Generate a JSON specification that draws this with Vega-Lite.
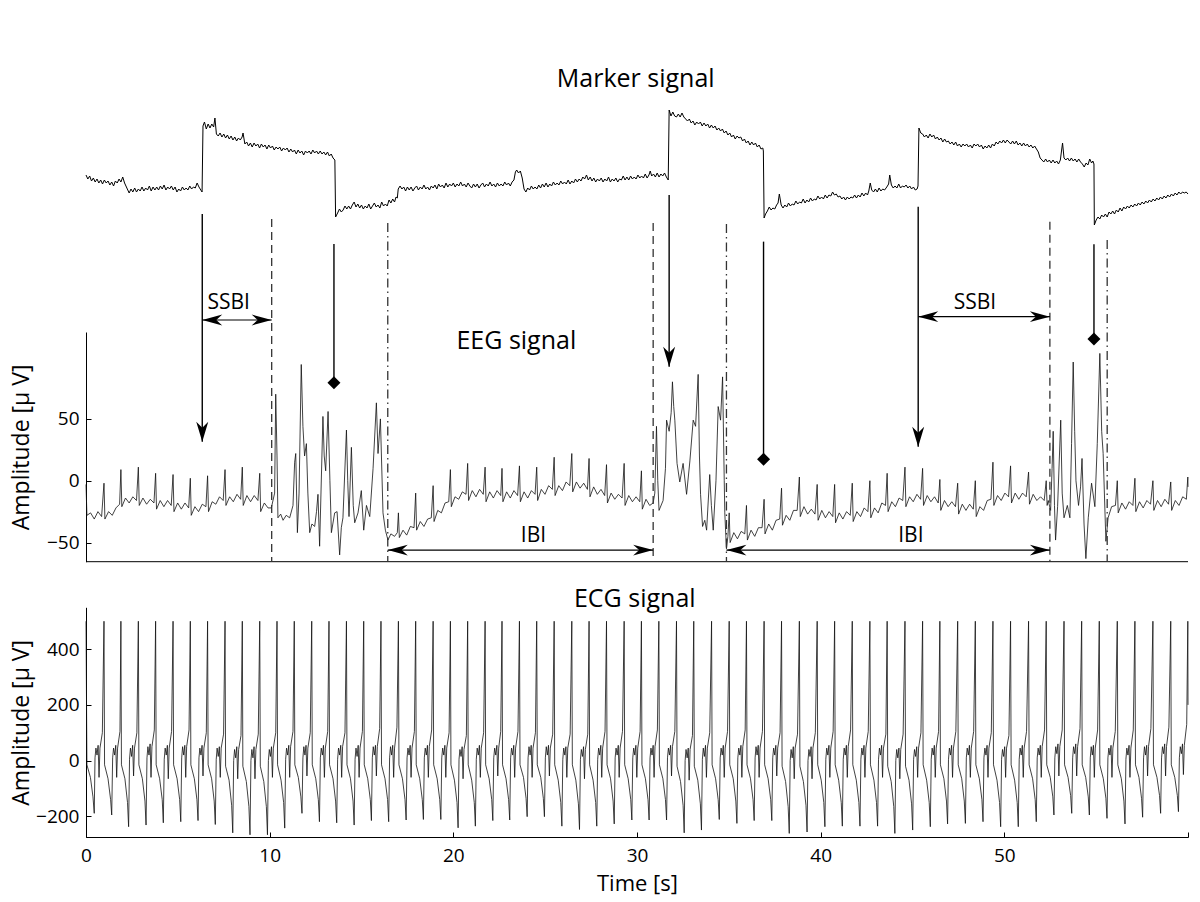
{
"$schema":"https://vega.github.io/schema/vega-lite/v6.json",
"width":1102,"height":837,
"autosize":{"type":"none"},
"padding":{"left":86,"top":0,"right":12,"bottom":65},
"background":"white",
"config":{"view":{"stroke":null},"font":"Open Sans",
"axis":{"grid":false,"domainColor":"#000","tickColor":"#000","labelColor":"#000","titleColor":"#000","labelFontSize":19,"titleFontWeight":"normal","tickSize":-5,"domainWidth":1,"tickWidth":1,"labelFont":"Open Sans","titleFont":"Open Sans"}},
"datasets":{
"marker":[{"t":0,"v":55},{"t":0.1,"v":51},{"t":0.2,"v":54},{"t":0.3,"v":49},{"t":0.4,"v":52},{"t":0.5,"v":48},{"t":0.6,"v":51},{"t":0.7,"v":47},{"t":0.8,"v":50},{"t":0.9,"v":46},{"t":1.0,"v":50},{"t":1.1,"v":47},{"t":1.2,"v":49},{"t":1.3,"v":45},{"t":1.4,"v":48},{"t":1.5,"v":44},{"t":1.6,"v":49},{"t":1.7,"v":47},{"t":1.8,"v":51},{"t":1.9,"v":48},{"t":2.0,"v":53},{"t":2.1,"v":47},{"t":2.25,"v":41},{"t":2.35,"v":37},{"t":2.45,"v":41},{"t":2.55,"v":38},{"t":2.65,"v":42},{"t":2.75,"v":38},{"t":2.85,"v":41},{"t":2.95,"v":39},{"t":3.05,"v":43},{"t":3.15,"v":39},{"t":3.25,"v":42},{"t":3.35,"v":40},{"t":3.45,"v":44},{"t":3.55,"v":39},{"t":3.65,"v":43},{"t":3.75,"v":40},{"t":3.85,"v":43},{"t":3.95,"v":40},{"t":4.05,"v":44},{"t":4.15,"v":41},{"t":4.25,"v":45},{"t":4.35,"v":40},{"t":4.45,"v":43},{"t":4.55,"v":41},{"t":4.65,"v":44},{"t":4.75,"v":40},{"t":4.85,"v":43},{"t":4.95,"v":38},{"t":5.05,"v":41},{"t":5.15,"v":39},{"t":5.25,"v":43},{"t":5.35,"v":40},{"t":5.45,"v":42},{"t":5.55,"v":40},{"t":5.65,"v":44},{"t":5.75,"v":41},{"t":5.85,"v":43},{"t":5.95,"v":42},{"t":6.05,"v":47},{"t":6.15,"v":43},{"t":6.25,"v":40},{"t":6.32,"v":38},
{"t":6.37,"v":104},{"t":6.45,"v":108},{"t":6.55,"v":101},{"t":6.65,"v":106},{"t":6.75,"v":102},{"t":6.85,"v":106},{"t":6.95,"v":103},{"t":7.02,"v":112},{"t":7.1,"v":96},{"t":7.2,"v":94},{"t":7.3,"v":97},{"t":7.4,"v":93},{"t":7.5,"v":96},{"t":7.6,"v":92},{"t":7.7,"v":95},{"t":7.8,"v":91},{"t":7.9,"v":94},{"t":8.0,"v":90},{"t":8.1,"v":93},{"t":8.2,"v":89},{"t":8.3,"v":92},{"t":8.4,"v":90},{"t":8.5,"v":93},{"t":8.55,"v":97},{"t":8.65,"v":86},{"t":8.75,"v":88},{"t":8.85,"v":84},{"t":8.95,"v":87},{"t":9.05,"v":83},{"t":9.15,"v":87},{"t":9.25,"v":84},{"t":9.35,"v":86},{"t":9.45,"v":82},{"t":9.55,"v":86},{"t":9.65,"v":83},{"t":9.75,"v":85},{"t":9.85,"v":81},{"t":9.95,"v":85},{"t":10.05,"v":82},{"t":10.15,"v":84},{"t":10.25,"v":80},{"t":10.35,"v":83},{"t":10.45,"v":81},{"t":10.55,"v":83},{"t":10.65,"v":79},{"t":10.75,"v":82},{"t":10.85,"v":80},{"t":10.95,"v":82},{"t":11.05,"v":78},{"t":11.15,"v":81},{"t":11.25,"v":78},{"t":11.35,"v":80},{"t":11.45,"v":76},{"t":11.55,"v":80},{"t":11.65,"v":77},{"t":11.75,"v":79},{"t":11.85,"v":75},{"t":11.95,"v":79},{"t":12.05,"v":77},{"t":12.15,"v":79},{"t":12.25,"v":76},{"t":12.35,"v":80},{"t":12.45,"v":77},{"t":12.55,"v":79},{"t":12.65,"v":76},{"t":12.75,"v":79},{"t":12.85,"v":76},{"t":12.95,"v":78},{"t":13.05,"v":75},{"t":13.15,"v":78},{"t":13.25,"v":74},{"t":13.35,"v":76},{"t":13.45,"v":72},{"t":13.55,"v":70},
{"t":13.59,"v":13},{"t":13.7,"v":17},{"t":13.8,"v":21},{"t":13.9,"v":18},{"t":14.0,"v":20},{"t":14.1,"v":24},{"t":14.2,"v":21},{"t":14.3,"v":24},{"t":14.4,"v":21},{"t":14.5,"v":25},{"t":14.6,"v":28},{"t":14.7,"v":23},{"t":14.8,"v":26},{"t":14.9,"v":22},{"t":15.0,"v":25},{"t":15.1,"v":21},{"t":15.2,"v":24},{"t":15.3,"v":22},{"t":15.4,"v":26},{"t":15.5,"v":21},{"t":15.6,"v":24},{"t":15.7,"v":27},{"t":15.8,"v":23},{"t":15.9,"v":25},{"t":16.0,"v":22},{"t":16.1,"v":28},{"t":16.2,"v":24},{"t":16.3,"v":26},{"t":16.4,"v":24},{"t":16.5,"v":30},{"t":16.6,"v":27},{"t":16.7,"v":31},{"t":16.8,"v":28},{"t":16.88,"v":33},{"t":16.95,"v":32},{"t":17.0,"v":41},{"t":17.1,"v":44},{"t":17.2,"v":41},{"t":17.3,"v":43},{"t":17.4,"v":39},{"t":17.5,"v":43},{"t":17.6,"v":40},{"t":17.7,"v":43},{"t":17.8,"v":39},{"t":17.9,"v":42},{"t":18.0,"v":44},{"t":18.1,"v":40},{"t":18.2,"v":43},{"t":18.3,"v":41},{"t":18.4,"v":45},{"t":18.5,"v":41},{"t":18.6,"v":43},{"t":18.7,"v":40},{"t":18.8,"v":44},{"t":18.9,"v":42},{"t":19.0,"v":45},{"t":19.1,"v":41},{"t":19.2,"v":46},{"t":19.3,"v":43},{"t":19.4,"v":45},{"t":19.5,"v":42},{"t":19.6,"v":47},{"t":19.7,"v":43},{"t":19.8,"v":46},{"t":19.9,"v":44},{"t":20.0,"v":47},{"t":20.1,"v":43},{"t":20.2,"v":46},{"t":20.3,"v":44},{"t":20.4,"v":48},{"t":20.5,"v":44},{"t":20.6,"v":46},{"t":20.7,"v":43},{"t":20.8,"v":47},{"t":20.9,"v":44},{"t":21.0,"v":42},{"t":21.1,"v":46},{"t":21.2,"v":43},{"t":21.3,"v":46},{"t":21.4,"v":42},{"t":21.5,"v":45},{"t":21.6,"v":47},{"t":21.7,"v":43},{"t":21.8,"v":46},{"t":21.9,"v":44},{"t":22.0,"v":48},{"t":22.1,"v":44},{"t":22.2,"v":46},{"t":22.3,"v":43},{"t":22.4,"v":47},{"t":22.5,"v":44},{"t":22.6,"v":46},{"t":22.7,"v":44},{"t":22.8,"v":48},{"t":22.9,"v":45},{"t":23.0,"v":47},{"t":23.1,"v":44},{"t":23.2,"v":48},{"t":23.3,"v":50},{"t":23.38,"v":58},{"t":23.45,"v":60},{"t":23.55,"v":57},{"t":23.65,"v":59},{"t":23.75,"v":52},{"t":23.85,"v":41},{"t":23.95,"v":38},{"t":24.05,"v":42},{"t":24.15,"v":40},{"t":24.25,"v":44},{"t":24.35,"v":41},{"t":24.45,"v":43},{"t":24.55,"v":41},{"t":24.65,"v":45},{"t":24.75,"v":42},{"t":24.85,"v":46},{"t":24.95,"v":43},{"t":25.05,"v":47},{"t":25.15,"v":43},{"t":25.25,"v":46},{"t":25.35,"v":44},{"t":25.45,"v":48},{"t":25.55,"v":45},{"t":25.65,"v":47},{"t":25.75,"v":45},{"t":25.85,"v":49},{"t":25.95,"v":46},{"t":26.05,"v":48},{"t":26.15,"v":46},{"t":26.25,"v":50},{"t":26.35,"v":46},{"t":26.45,"v":49},{"t":26.55,"v":47},{"t":26.65,"v":51},{"t":26.75,"v":48},{"t":26.85,"v":51},{"t":26.95,"v":49},{"t":27.05,"v":53},{"t":27.15,"v":51},{"t":27.25,"v":55},{"t":27.35,"v":50},{"t":27.45,"v":53},{"t":27.55,"v":49},{"t":27.65,"v":52},{"t":27.75,"v":48},{"t":27.85,"v":51},{"t":27.95,"v":49},{"t":28.05,"v":52},{"t":28.15,"v":48},{"t":28.25,"v":51},{"t":28.35,"v":49},{"t":28.45,"v":53},{"t":28.55,"v":48},{"t":28.65,"v":51},{"t":28.75,"v":49},{"t":28.85,"v":52},{"t":28.95,"v":48},{"t":29.05,"v":51},{"t":29.15,"v":50},{"t":29.25,"v":54},{"t":29.35,"v":50},{"t":29.45,"v":53},{"t":29.55,"v":50},{"t":29.65,"v":54},{"t":29.75,"v":51},{"t":29.85,"v":53},{"t":29.95,"v":51},{"t":30.05,"v":55},{"t":30.15,"v":52},{"t":30.25,"v":54},{"t":30.35,"v":52},{"t":30.45,"v":56},{"t":30.55,"v":52},{"t":30.65,"v":55},{"t":30.72,"v":59},{"t":30.8,"v":54},{"t":30.9,"v":56},{"t":31.0,"v":53},{"t":31.1,"v":57},{"t":31.2,"v":53},{"t":31.3,"v":56},{"t":31.4,"v":54},{"t":31.5,"v":57},{"t":31.6,"v":53},{"t":31.7,"v":50},
{"t":31.75,"v":120},{"t":31.85,"v":114},{"t":31.95,"v":118},{"t":32.05,"v":114},{"t":32.15,"v":113},{"t":32.25,"v":116},{"t":32.35,"v":113},{"t":32.45,"v":117},{"t":32.55,"v":113},{"t":32.65,"v":111},{"t":32.75,"v":109},{"t":32.85,"v":111},{"t":32.95,"v":107},{"t":33.05,"v":109},{"t":33.15,"v":105},{"t":33.25,"v":108},{"t":33.35,"v":106},{"t":33.45,"v":108},{"t":33.55,"v":104},{"t":33.65,"v":107},{"t":33.75,"v":104},{"t":33.85,"v":106},{"t":33.95,"v":102},{"t":34.05,"v":105},{"t":34.15,"v":102},{"t":34.25,"v":104},{"t":34.35,"v":100},{"t":34.45,"v":102},{"t":34.55,"v":99},{"t":34.65,"v":101},{"t":34.75,"v":97},{"t":34.85,"v":99},{"t":34.95,"v":95},{"t":35.05,"v":97},{"t":35.15,"v":93},{"t":35.25,"v":95},{"t":35.35,"v":91},{"t":35.45,"v":94},{"t":35.55,"v":92},{"t":35.65,"v":93},{"t":35.75,"v":89},{"t":35.85,"v":91},{"t":35.95,"v":87},{"t":36.05,"v":89},{"t":36.15,"v":85},{"t":36.25,"v":88},{"t":36.35,"v":85},{"t":36.45,"v":87},{"t":36.55,"v":83},{"t":36.65,"v":85},{"t":36.75,"v":81},{"t":36.85,"v":82},{"t":36.88,"v":79},
{"t":36.92,"v":12},{"t":37.0,"v":16},{"t":37.1,"v":19},{"t":37.2,"v":23},{"t":37.3,"v":20},{"t":37.4,"v":22},{"t":37.5,"v":21},{"t":37.6,"v":25},{"t":37.68,"v":27},{"t":37.75,"v":36},{"t":37.85,"v":25},{"t":37.95,"v":22},{"t":38.05,"v":25},{"t":38.15,"v":23},{"t":38.25,"v":27},{"t":38.35,"v":24},{"t":38.45,"v":26},{"t":38.55,"v":25},{"t":38.65,"v":29},{"t":38.75,"v":26},{"t":38.85,"v":28},{"t":38.95,"v":27},{"t":39.05,"v":31},{"t":39.15,"v":27},{"t":39.25,"v":30},{"t":39.35,"v":28},{"t":39.45,"v":32},{"t":39.55,"v":29},{"t":39.65,"v":31},{"t":39.75,"v":30},{"t":39.85,"v":34},{"t":39.95,"v":31},{"t":40.05,"v":33},{"t":40.15,"v":31},{"t":40.25,"v":35},{"t":40.35,"v":32},{"t":40.45,"v":35},{"t":40.55,"v":34},{"t":40.65,"v":38},{"t":40.75,"v":35},{"t":40.85,"v":36},{"t":40.95,"v":33},{"t":41.05,"v":34},{"t":41.15,"v":31},{"t":41.25,"v":33},{"t":41.35,"v":30},{"t":41.45,"v":33},{"t":41.55,"v":31},{"t":41.65,"v":33},{"t":41.75,"v":32},{"t":41.85,"v":35},{"t":41.95,"v":32},{"t":42.05,"v":35},{"t":42.15,"v":33},{"t":42.25,"v":37},{"t":42.35,"v":34},{"t":42.45,"v":37},{"t":42.55,"v":35},{"t":42.62,"v":39},{"t":42.7,"v":47},{"t":42.78,"v":40},{"t":42.88,"v":38},{"t":42.98,"v":41},{"t":43.08,"v":38},{"t":43.18,"v":42},{"t":43.28,"v":39},{"t":43.38,"v":41},{"t":43.48,"v":40},{"t":43.6,"v":43},{"t":43.7,"v":46},{"t":43.76,"v":55},{"t":43.85,"v":45},{"t":43.95,"v":42},{"t":44.05,"v":44},{"t":44.15,"v":42},{"t":44.25,"v":46},{"t":44.35,"v":42},{"t":44.45,"v":44},{"t":44.55,"v":43},{"t":44.65,"v":45},{"t":44.75,"v":42},{"t":44.85,"v":44},{"t":44.95,"v":41},{"t":45.05,"v":43},{"t":45.15,"v":40},{"t":45.25,"v":41},{"t":45.3,"v":44},
{"t":45.35,"v":102},{"t":45.45,"v":97},{"t":45.55,"v":96},{"t":45.65,"v":93},{"t":45.75,"v":95},{"t":45.85,"v":92},{"t":45.95,"v":96},{"t":46.05,"v":93},{"t":46.15,"v":95},{"t":46.25,"v":91},{"t":46.35,"v":93},{"t":46.45,"v":90},{"t":46.55,"v":92},{"t":46.65,"v":88},{"t":46.75,"v":91},{"t":46.85,"v":88},{"t":46.95,"v":89},{"t":47.05,"v":86},{"t":47.15,"v":88},{"t":47.25,"v":85},{"t":47.35,"v":88},{"t":47.45,"v":84},{"t":47.55,"v":86},{"t":47.65,"v":83},{"t":47.75,"v":86},{"t":47.85,"v":84},{"t":47.95,"v":86},{"t":48.05,"v":83},{"t":48.15,"v":85},{"t":48.25,"v":82},{"t":48.35,"v":86},{"t":48.45,"v":84},{"t":48.55,"v":86},{"t":48.65,"v":83},{"t":48.75,"v":85},{"t":48.85,"v":81},{"t":48.95,"v":84},{"t":49.05,"v":82},{"t":49.15,"v":85},{"t":49.25,"v":82},{"t":49.35,"v":86},{"t":49.45,"v":84},{"t":49.55,"v":88},{"t":49.65,"v":86},{"t":49.75,"v":89},{"t":49.85,"v":87},{"t":49.95,"v":90},{"t":50.05,"v":87},{"t":50.15,"v":90},{"t":50.25,"v":88},{"t":50.35,"v":86},{"t":50.45,"v":89},{"t":50.55,"v":86},{"t":50.65,"v":89},{"t":50.75,"v":85},{"t":50.85,"v":87},{"t":50.95,"v":84},{"t":51.05,"v":87},{"t":51.15,"v":84},{"t":51.25,"v":86},{"t":51.35,"v":83},{"t":51.45,"v":85},{"t":51.55,"v":82},{"t":51.65,"v":84},{"t":51.75,"v":81},{"t":51.85,"v":78},{"t":51.95,"v":72},{"t":52.05,"v":70},{"t":52.15,"v":68},{"t":52.25,"v":71},{"t":52.35,"v":68},{"t":52.45,"v":70},{"t":52.55,"v":67},{"t":52.65,"v":70},{"t":52.75,"v":67},{"t":52.85,"v":69},{"t":52.95,"v":66},{"t":53.05,"v":70},{"t":53.12,"v":80},{"t":53.17,"v":87},{"t":53.25,"v":72},{"t":53.35,"v":70},{"t":53.45,"v":72},{"t":53.55,"v":69},{"t":53.65,"v":72},{"t":53.75,"v":69},{"t":53.85,"v":71},{"t":53.95,"v":68},{"t":54.05,"v":71},{"t":54.15,"v":68},{"t":54.25,"v":66},{"t":54.35,"v":63},{"t":54.45,"v":67},{"t":54.55,"v":65},{"t":54.65,"v":71},{"t":54.75,"v":67},{"t":54.82,"v":69},{"t":54.88,"v":66},
{"t":54.9,"v":5},{"t":55.0,"v":10},{"t":55.1,"v":13},{"t":55.2,"v":11},{"t":55.3,"v":15},{"t":55.4,"v":13},{"t":55.5,"v":16},{"t":55.6,"v":13},{"t":55.7,"v":18},{"t":55.8,"v":16},{"t":55.9,"v":19},{"t":56.0,"v":16},{"t":56.1,"v":20},{"t":56.2,"v":18},{"t":56.3,"v":22},{"t":56.4,"v":19},{"t":56.5,"v":23},{"t":56.6,"v":21},{"t":56.7,"v":24},{"t":56.8,"v":22},{"t":56.9,"v":25},{"t":57.0,"v":23},{"t":57.1,"v":26},{"t":57.2,"v":24},{"t":57.3,"v":27},{"t":57.4,"v":25},{"t":57.5,"v":28},{"t":57.6,"v":26},{"t":57.7,"v":29},{"t":57.8,"v":27},{"t":57.9,"v":30},{"t":58.0,"v":28},{"t":58.1,"v":31},{"t":58.2,"v":29},{"t":58.3,"v":32},{"t":58.4,"v":30},{"t":58.5,"v":33},{"t":58.6,"v":31},{"t":58.7,"v":34},{"t":58.8,"v":32},{"t":58.9,"v":35},{"t":59.0,"v":33},{"t":59.1,"v":36},{"t":59.2,"v":34},{"t":59.3,"v":37},{"t":59.4,"v":35},{"t":59.5,"v":38},{"t":59.6,"v":36},{"t":59.7,"v":38},{"t":59.8,"v":37},{"t":59.9,"v":38},{"t":60.0,"v":36}],
"eeg":[{"t":0,"v":-3},{"t":0.05,"v":-28},{"t":0.25,"v":-26},{"t":0.45,"v":-31},{"t":0.65,"v":-25},{"t":0.85,"v":-29},
{"t":0.98,"v":-2},{"t":1.03,"v":-31},{"t":1.23,"v":-25},{"t":1.43,"v":-28},{"t":1.63,"v":-22},{"t":1.83,"v":-19},
{"t":1.9,"v":9},{"t":1.95,"v":-21},{"t":2.15,"v":-14},{"t":2.35,"v":-18},{"t":2.55,"v":-13},{"t":2.75,"v":-16},
{"t":2.85,"v":11},{"t":2.9,"v":-20},{"t":3.1,"v":-14},{"t":3.3,"v":-19},{"t":3.5,"v":-15},{"t":3.7,"v":-18},
{"t":3.79,"v":6},{"t":3.84,"v":-23},{"t":4.04,"v":-16},{"t":4.24,"v":-21},{"t":4.44,"v":-16},{"t":4.64,"v":-20},
{"t":4.74,"v":5},{"t":4.79,"v":-25},{"t":4.99,"v":-18},{"t":5.19,"v":-23},{"t":5.39,"v":-18},{"t":5.59,"v":-22},
{"t":5.68,"v":2},{"t":5.73,"v":-28},{"t":5.93,"v":-21},{"t":6.13,"v":-25},{"t":6.33,"v":-19},{"t":6.53,"v":-21},
{"t":6.62,"v":4},{"t":6.67,"v":-25},{"t":6.87,"v":-17},{"t":7.07,"v":-19},{"t":7.27,"v":-13},{"t":7.47,"v":-16},
{"t":7.57,"v":9},{"t":7.62,"v":-20},{"t":7.82,"v":-13},{"t":8.02,"v":-17},{"t":8.22,"v":-11},{"t":8.42,"v":-15},
{"t":8.51,"v":11},{"t":8.56,"v":-20},{"t":8.76,"v":-12},{"t":8.96,"v":-17},{"t":9.16,"v":-12},{"t":9.36,"v":-16},
{"t":9.46,"v":6},{"t":9.51,"v":-25},{"t":9.71,"v":-18},{"t":9.91,"v":-22},
{"t":10.09,"v":-22},{"t":10.27,"v":-10},{"t":10.33,"v":70},{"t":10.4,"v":20},{"t":10.45,"v":-30},{"t":10.6,"v":-27},{"t":10.73,"v":-32},{"t":10.9,"v":-28},{"t":11.09,"v":-30},{"t":11.27,"v":-20},{"t":11.36,"v":15},{"t":11.42,"v":22},{"t":11.51,"v":-42},{"t":11.6,"v":-10},{"t":11.72,"v":94},{"t":11.81,"v":44},{"t":11.9,"v":20},{"t":12.0,"v":30},{"t":12.08,"v":-10},{"t":12.18,"v":-42},{"t":12.3,"v":-35},{"t":12.45,"v":-37},{"t":12.55,"v":-25},{"t":12.63,"v":-11},{"t":12.72,"v":-53},{"t":12.9,"v":52},{"t":12.97,"v":20},{"t":13.05,"v":8},{"t":13.18,"v":56},{"t":13.28,"v":0},{"t":13.36,"v":-42},{"t":13.54,"v":-26},{"t":13.67,"v":-25},{"t":13.81,"v":-60},{"t":13.9,"v":-38},{"t":13.99,"v":-30},{"t":14.18,"v":41},{"t":14.25,"v":0},{"t":14.32,"v":-29},{"t":14.45,"v":27},{"t":14.55,"v":-20},{"t":14.63,"v":-34},{"t":14.81,"v":-26},{"t":14.99,"v":-8},{"t":15.12,"v":-40},{"t":15.27,"v":-20},{"t":15.45,"v":-29},{"t":15.63,"v":10},{"t":15.81,"v":63},{"t":15.9,"v":22},{"t":16.03,"v":50},{"t":16.17,"v":-26},{"t":16.3,"v":-40},{"t":16.44,"v":-48},
{"t":16.6,"v":-43},{"t":16.8,"v":-45},{"t":16.95,"v":-42},
{"t":17.01,"v":-26},{"t":17.06,"v":-46},{"t":17.26,"v":-40},{"t":17.46,"v":-44},{"t":17.66,"v":-37},{"t":17.86,"v":-38},
{"t":17.95,"v":-10},{"t":18.0,"v":-40},{"t":18.2,"v":-33},{"t":18.4,"v":-37},{"t":18.6,"v":-31},{"t":18.8,"v":-30},
{"t":18.9,"v":-4},{"t":18.95,"v":-33},{"t":19.15,"v":-24},{"t":19.35,"v":-26},{"t":19.55,"v":-18},{"t":19.75,"v":-17},
{"t":19.84,"v":9},{"t":19.89,"v":-21},{"t":20.09,"v":-13},{"t":20.29,"v":-15},{"t":20.49,"v":-9},{"t":20.69,"v":-11},
{"t":20.78,"v":14},{"t":20.83,"v":-16},{"t":21.03,"v":-8},{"t":21.23,"v":-13},{"t":21.43,"v":-7},{"t":21.63,"v":-11},
{"t":21.73,"v":11},{"t":21.78,"v":-17},{"t":21.98,"v":-9},{"t":22.18,"v":-14},{"t":22.38,"v":-8},{"t":22.58,"v":-12},
{"t":22.65,"v":10},{"t":22.7,"v":-17},{"t":22.9,"v":-9},{"t":23.1,"v":-14},{"t":23.3,"v":-8},{"t":23.5,"v":-12},
{"t":23.6,"v":12},{"t":23.65,"v":-17},{"t":23.85,"v":-9},{"t":24.05,"v":-14},{"t":24.25,"v":-8},{"t":24.45,"v":-11},
{"t":24.54,"v":11},{"t":24.59,"v":-16},{"t":24.79,"v":-7},{"t":24.99,"v":-11},{"t":25.19,"v":-4},{"t":25.39,"v":-7},
{"t":25.49,"v":19},{"t":25.54,"v":-12},{"t":25.74,"v":-4},{"t":25.94,"v":-8},{"t":26.14,"v":-1},{"t":26.34,"v":-4},
{"t":26.45,"v":22},{"t":26.5,"v":-9},{"t":26.7,"v":-1},{"t":26.9,"v":-6},{"t":27.1,"v":-2},{"t":27.3,"v":-7},
{"t":27.39,"v":18},{"t":27.44,"v":-13},{"t":27.64,"v":-5},{"t":27.84,"v":-11},{"t":28.04,"v":-7},{"t":28.24,"v":-12},
{"t":28.34,"v":13},{"t":28.39,"v":-18},{"t":28.59,"v":-10},{"t":28.79,"v":-15},{"t":28.99,"v":-11},{"t":29.19,"v":-14},
{"t":29.3,"v":14},{"t":29.35,"v":-20},{"t":29.55,"v":-12},{"t":29.75,"v":-17},{"t":29.95,"v":-13},{"t":30.15,"v":-17},
{"t":30.24,"v":8},{"t":30.29,"v":-23},{"t":30.49,"v":-15},{"t":30.69,"v":-20},
{"t":30.88,"v":-18},{"t":30.97,"v":-10},{"t":31.06,"v":44},{"t":31.13,"v":0},{"t":31.2,"v":-24},{"t":31.42,"v":-16},{"t":31.55,"v":10},{"t":31.61,"v":49},{"t":31.75,"v":40},{"t":31.86,"v":55},{"t":31.93,"v":80},{"t":32.0,"v":60},{"t":32.06,"v":49},{"t":32.18,"v":14},{"t":32.33,"v":-1},{"t":32.51,"v":14},{"t":32.7,"v":-11},{"t":32.88,"v":16},{"t":33.06,"v":49},{"t":33.19,"v":44},{"t":33.33,"v":86},{"t":33.4,"v":20},{"t":33.46,"v":-11},{"t":33.57,"v":-37},{"t":33.69,"v":-32},{"t":33.79,"v":-40},{"t":33.96,"v":5},{"t":34.05,"v":-20},{"t":34.15,"v":-40},{"t":34.3,"v":0},{"t":34.42,"v":60},{"t":34.55,"v":49},{"t":34.66,"v":84},{"t":34.75,"v":0},{"t":34.78,"v":-26},{"t":34.87,"v":-55},
{"t":34.95,"v":-45},
{"t":35.02,"v":-26},{"t":35.07,"v":-50},{"t":35.27,"v":-42},{"t":35.47,"v":-47},{"t":35.67,"v":-41},{"t":35.87,"v":-43},
{"t":35.96,"v":-20},{"t":36.01,"v":-48},{"t":36.21,"v":-40},{"t":36.41,"v":-45},{"t":36.61,"v":-38},{"t":36.81,"v":-38},
{"t":36.92,"v":-15},{"t":36.97,"v":-43},{"t":37.17,"v":-35},{"t":37.37,"v":-40},{"t":37.57,"v":-32},{"t":37.77,"v":-31},
{"t":37.87,"v":-6},{"t":37.92,"v":-36},{"t":38.12,"v":-28},{"t":38.32,"v":-32},{"t":38.52,"v":-24},{"t":38.72,"v":-24},
{"t":38.84,"v":3},{"t":38.89,"v":-29},{"t":39.09,"v":-21},{"t":39.29,"v":-27},{"t":39.49,"v":-23},{"t":39.69,"v":-27},
{"t":39.81,"v":-3},{"t":39.86,"v":-32},{"t":40.06,"v":-24},{"t":40.26,"v":-30},{"t":40.46,"v":-25},{"t":40.66,"v":-29},
{"t":40.76,"v":-3},{"t":40.81,"v":-34},{"t":41.01,"v":-26},{"t":41.21,"v":-31},{"t":41.41,"v":-25},{"t":41.61,"v":-28},
{"t":41.72,"v":-2},{"t":41.77,"v":-33},{"t":41.97,"v":-25},{"t":42.17,"v":-29},{"t":42.37,"v":-22},{"t":42.57,"v":-25},
{"t":42.68,"v":0},{"t":42.73,"v":-30},{"t":42.93,"v":-22},{"t":43.13,"v":-26},{"t":43.33,"v":-18},{"t":43.53,"v":-20},
{"t":43.62,"v":6},{"t":43.67,"v":-25},{"t":43.87,"v":-17},{"t":44.07,"v":-21},{"t":44.27,"v":-14},{"t":44.47,"v":-16},
{"t":44.59,"v":11},{"t":44.64,"v":-21},{"t":44.84,"v":-13},{"t":45.04,"v":-17},{"t":45.24,"v":-11},{"t":45.44,"v":-15},
{"t":45.55,"v":10},{"t":45.6,"v":-20},{"t":45.8,"v":-12},{"t":46.0,"v":-17},{"t":46.2,"v":-13},{"t":46.4,"v":-18},
{"t":46.49,"v":1},{"t":46.54,"v":-24},{"t":46.74,"v":-16},{"t":46.94,"v":-21},{"t":47.14,"v":-17},{"t":47.34,"v":-21},
{"t":47.46,"v":-2},{"t":47.51,"v":-27},{"t":47.71,"v":-19},{"t":47.91,"v":-24},{"t":48.11,"v":-19},{"t":48.31,"v":-23},
{"t":48.42,"v":0},{"t":48.47,"v":-29},{"t":48.67,"v":-21},{"t":48.87,"v":-24},{"t":49.07,"v":-16},{"t":49.27,"v":-15},
{"t":49.38,"v":15},{"t":49.43,"v":-20},{"t":49.63,"v":-12},{"t":49.83,"v":-16},{"t":50.03,"v":-10},{"t":50.23,"v":-13},
{"t":50.34,"v":12},{"t":50.39,"v":-18},{"t":50.59,"v":-10},{"t":50.79,"v":-15},{"t":50.99,"v":-10},{"t":51.19,"v":-13},
{"t":51.32,"v":7},{"t":51.37,"v":-19},{"t":51.57,"v":-11},{"t":51.77,"v":-16},{"t":51.97,"v":-13},{"t":52.17,"v":-16},
{"t":52.28,"v":0},{"t":52.33,"v":-20},
{"t":52.39,"v":-16},{"t":52.52,"v":-24},{"t":52.6,"v":10},{"t":52.66,"v":40},{"t":52.73,"v":-20},{"t":52.79,"v":-48},{"t":52.9,"v":-21},{"t":53.0,"v":20},{"t":53.07,"v":49},{"t":53.15,"v":-10},{"t":53.25,"v":-30},{"t":53.43,"v":-20},{"t":53.57,"v":-30},{"t":53.66,"v":30},{"t":53.75,"v":96},{"t":53.83,"v":40},{"t":53.9,"v":0},{"t":54.04,"v":-20},{"t":54.15,"v":-5},{"t":54.23,"v":18},{"t":54.34,"v":-35},{"t":54.44,"v":-63},{"t":54.57,"v":-30},{"t":54.75,"v":-2},{"t":54.93,"v":-21},{"t":55.06,"v":30},{"t":55.2,"v":103},{"t":55.3,"v":40},{"t":55.38,"v":22},{"t":55.53,"v":-49},{"t":55.65,"v":-30},{"t":55.84,"v":-21},
{"t":56.05,"v":-20},
{"t":56.15,"v":0},{"t":56.2,"v":-26},{"t":56.4,"v":-18},{"t":56.6,"v":-23},{"t":56.8,"v":-17},{"t":57.0,"v":-20},
{"t":57.11,"v":2},{"t":57.16,"v":-25},{"t":57.36,"v":-17},{"t":57.56,"v":-22},{"t":57.76,"v":-16},{"t":57.96,"v":-19},
{"t":58.09,"v":0},{"t":58.14,"v":-24},{"t":58.34,"v":-16},{"t":58.54,"v":-21},{"t":58.74,"v":-15},{"t":58.94,"v":-19},
{"t":59.06,"v":-1},{"t":59.11,"v":-24},{"t":59.31,"v":-16},{"t":59.51,"v":-20},{"t":59.71,"v":-13},{"t":59.91,"v":-15},
{"t":59.99,"v":3},{"t":60.0,"v":-5}],
"ecg":[{"t":0,"v":500},{"t":0.05,"v":-15},{"t":0.24,"v":-60},{"t":0.38,"v":-130},{"t":0.45,"v":-189},{"t":0.49,"v":10},{"t":0.54,"v":45},{"t":0.6,"v":20},{"t":0.66,"v":55},{"t":0.71,"v":-60},{"t":0.76,"v":45},{"t":0.89,"v":100},
{"t":0.98,"v":500},{"t":1.01,"v":-15},{"t":1.2,"v":-65},{"t":1.34,"v":-140},{"t":1.4,"v":-195},{"t":1.45,"v":10},{"t":1.5,"v":45},{"t":1.56,"v":20},{"t":1.62,"v":55},{"t":1.67,"v":-60},{"t":1.72,"v":45},{"t":1.85,"v":105},
{"t":1.9,"v":500},{"t":1.93,"v":-15},{"t":2.12,"v":-65},{"t":2.26,"v":-150},{"t":2.32,"v":-237},{"t":2.37,"v":5},{"t":2.42,"v":45},{"t":2.48,"v":15},{"t":2.54,"v":55},{"t":2.59,"v":-55},{"t":2.64,"v":45},{"t":2.77,"v":100},
{"t":2.85,"v":500},{"t":2.88,"v":-15},{"t":3.07,"v":-65},{"t":3.21,"v":-145},{"t":3.27,"v":-231},{"t":3.32,"v":10},{"t":3.37,"v":50},{"t":3.43,"v":20},{"t":3.49,"v":60},{"t":3.54,"v":-60},{"t":3.59,"v":50},{"t":3.72,"v":110},
{"t":3.79,"v":500},{"t":3.82,"v":-15},{"t":4.01,"v":-65},{"t":4.15,"v":-140},{"t":4.21,"v":-223},{"t":4.26,"v":5},{"t":4.31,"v":45},{"t":4.37,"v":20},{"t":4.43,"v":55},{"t":4.48,"v":-65},{"t":4.53,"v":45},{"t":4.66,"v":105},
{"t":4.74,"v":500},{"t":4.77,"v":-15},{"t":4.96,"v":-65},{"t":5.1,"v":-140},{"t":5.16,"v":-219},{"t":5.21,"v":10},{"t":5.26,"v":50},{"t":5.32,"v":20},{"t":5.38,"v":55},{"t":5.43,"v":-60},{"t":5.48,"v":50},{"t":5.61,"v":110},
{"t":5.68,"v":500},{"t":5.71,"v":-15},{"t":5.9,"v":-65},{"t":6.04,"v":-140},{"t":6.1,"v":-215},{"t":6.15,"v":10},{"t":6.2,"v":45},{"t":6.26,"v":20},{"t":6.32,"v":55},{"t":6.37,"v":-55},{"t":6.42,"v":45},{"t":6.55,"v":100},
{"t":6.62,"v":500},{"t":6.65,"v":-15},{"t":6.84,"v":-65},{"t":6.98,"v":-145},{"t":7.04,"v":-229},{"t":7.09,"v":5},{"t":7.14,"v":45},{"t":7.2,"v":15},{"t":7.26,"v":50},{"t":7.31,"v":-60},{"t":7.36,"v":45},{"t":7.49,"v":95},
{"t":7.57,"v":500},{"t":7.6,"v":-20},{"t":7.79,"v":-70},{"t":7.93,"v":-160},{"t":7.99,"v":-259},{"t":8.04,"v":0},{"t":8.09,"v":40},{"t":8.15,"v":10},{"t":8.21,"v":50},{"t":8.26,"v":-65},{"t":8.31,"v":40},{"t":8.44,"v":90},
{"t":8.51,"v":500},{"t":8.54,"v":-20},{"t":8.73,"v":-75},{"t":8.87,"v":-165},{"t":8.93,"v":-266},{"t":8.98,"v":0},{"t":9.03,"v":40},{"t":9.09,"v":10},{"t":9.15,"v":50},{"t":9.2,"v":-65},{"t":9.25,"v":40},{"t":9.38,"v":95},
{"t":9.46,"v":500},{"t":9.49,"v":-20},{"t":9.68,"v":-75},{"t":9.82,"v":-165},{"t":9.88,"v":-266},{"t":9.93,"v":0},{"t":9.98,"v":40},{"t":10.04,"v":15},{"t":10.1,"v":50},{"t":10.15,"v":-60},{"t":10.2,"v":45},{"t":10.33,"v":100},
{"t":10.4,"v":500},{"t":10.43,"v":-15},{"t":10.62,"v":-70},{"t":10.76,"v":-150},{"t":10.82,"v":-242},{"t":10.87,"v":5},{"t":10.92,"v":45},{"t":10.98,"v":20},{"t":11.04,"v":55},{"t":11.09,"v":-60},{"t":11.14,"v":50},{"t":11.27,"v":105},
{"t":11.34,"v":500},{"t":11.37,"v":-15},{"t":11.56,"v":-60},{"t":11.7,"v":-130},{"t":11.76,"v":-189},{"t":11.81,"v":10},{"t":11.86,"v":50},{"t":11.92,"v":20},{"t":11.98,"v":55},{"t":12.03,"v":-55},{"t":12.08,"v":45},{"t":12.21,"v":100},
{"t":12.29,"v":500},{"t":12.32,"v":-15},{"t":12.51,"v":-65},{"t":12.65,"v":-140},{"t":12.71,"v":-219},{"t":12.76,"v":10},{"t":12.81,"v":45},{"t":12.87,"v":20},{"t":12.93,"v":55},{"t":12.98,"v":-60},{"t":13.03,"v":45},{"t":13.16,"v":105},
{"t":13.23,"v":500},{"t":13.26,"v":-15},{"t":13.45,"v":-65},{"t":13.59,"v":-145},{"t":13.65,"v":-223},{"t":13.7,"v":5},{"t":13.75,"v":45},{"t":13.81,"v":20},{"t":13.87,"v":55},{"t":13.92,"v":-60},{"t":13.97,"v":50},{"t":14.1,"v":100},
{"t":14.18,"v":500},{"t":14.21,"v":-15},{"t":14.4,"v":-65},{"t":14.54,"v":-145},{"t":14.6,"v":-231},{"t":14.65,"v":5},{"t":14.7,"v":45},{"t":14.76,"v":15},{"t":14.82,"v":55},{"t":14.87,"v":-60},{"t":14.92,"v":45},{"t":15.05,"v":105},
{"t":15.12,"v":500},{"t":15.15,"v":-15},{"t":15.34,"v":-65},{"t":15.48,"v":-140},{"t":15.54,"v":-215},{"t":15.59,"v":10},{"t":15.64,"v":50},{"t":15.7,"v":20},{"t":15.76,"v":55},{"t":15.81,"v":-55},{"t":15.86,"v":50},{"t":15.99,"v":115},
{"t":16.06,"v":500},{"t":16.09,"v":-15},{"t":16.28,"v":-65},{"t":16.42,"v":-140},{"t":16.48,"v":-219},{"t":16.53,"v":10},{"t":16.58,"v":50},{"t":16.64,"v":20},{"t":16.7,"v":55},{"t":16.75,"v":-60},{"t":16.8,"v":45},{"t":16.93,"v":120},
{"t":17.01,"v":500},{"t":17.04,"v":-15},{"t":17.23,"v":-65},{"t":17.37,"v":-140},{"t":17.43,"v":-213},{"t":17.48,"v":10},{"t":17.53,"v":45},{"t":17.59,"v":20},{"t":17.65,"v":55},{"t":17.7,"v":-60},{"t":17.75,"v":45},{"t":17.88,"v":105},
{"t":17.95,"v":500},{"t":17.98,"v":-15},{"t":18.17,"v":-65},{"t":18.31,"v":-140},{"t":18.37,"v":-211},{"t":18.42,"v":10},{"t":18.47,"v":45},{"t":18.53,"v":20},{"t":18.59,"v":55},{"t":18.64,"v":-60},{"t":18.69,"v":50},{"t":18.82,"v":110},
{"t":18.9,"v":500},{"t":18.93,"v":-15},{"t":19.12,"v":-65},{"t":19.26,"v":-140},{"t":19.32,"v":-211},{"t":19.37,"v":10},{"t":19.42,"v":45},{"t":19.48,"v":20},{"t":19.54,"v":55},{"t":19.59,"v":-60},{"t":19.64,"v":45},{"t":19.77,"v":100},
{"t":19.84,"v":500},{"t":19.87,"v":-15},{"t":20.06,"v":-70},{"t":20.2,"v":-150},{"t":20.26,"v":-241},{"t":20.31,"v":5},{"t":20.36,"v":40},{"t":20.42,"v":15},{"t":20.48,"v":50},{"t":20.53,"v":-65},{"t":20.58,"v":40},{"t":20.71,"v":90},
{"t":20.78,"v":500},{"t":20.81,"v":-15},{"t":21.0,"v":-70},{"t":21.14,"v":-150},{"t":21.2,"v":-235},{"t":21.25,"v":5},{"t":21.3,"v":45},{"t":21.36,"v":20},{"t":21.42,"v":55},{"t":21.47,"v":-60},{"t":21.52,"v":45},{"t":21.65,"v":100},
{"t":21.73,"v":500},{"t":21.76,"v":-15},{"t":21.95,"v":-65},{"t":22.09,"v":-140},{"t":22.15,"v":-215},{"t":22.2,"v":10},{"t":22.25,"v":45},{"t":22.31,"v":20},{"t":22.37,"v":55},{"t":22.42,"v":-55},{"t":22.47,"v":45},{"t":22.58,"v":105},
{"t":22.65,"v":500},{"t":22.68,"v":-15},{"t":22.87,"v":-65},{"t":23.01,"v":-140},{"t":23.07,"v":-213},{"t":23.12,"v":10},{"t":23.17,"v":45},{"t":23.23,"v":20},{"t":23.29,"v":55},{"t":23.34,"v":-60},{"t":23.39,"v":45},{"t":23.52,"v":105},
{"t":23.6,"v":500},{"t":23.63,"v":-15},{"t":23.82,"v":-60},{"t":23.96,"v":-135},{"t":24.02,"v":-201},{"t":24.07,"v":10},{"t":24.12,"v":50},{"t":24.18,"v":20},{"t":24.24,"v":55},{"t":24.29,"v":-60},{"t":24.34,"v":45},{"t":24.47,"v":100},
{"t":24.54,"v":500},{"t":24.57,"v":-15},{"t":24.76,"v":-60},{"t":24.9,"v":-135},{"t":24.96,"v":-201},{"t":25.01,"v":10},{"t":25.06,"v":50},{"t":25.12,"v":20},{"t":25.18,"v":55},{"t":25.23,"v":-55},{"t":25.28,"v":45},{"t":25.41,"v":95},
{"t":25.49,"v":500},{"t":25.52,"v":-15},{"t":25.71,"v":-70},{"t":25.85,"v":-150},{"t":25.91,"v":-235},{"t":25.96,"v":5},{"t":26.01,"v":45},{"t":26.07,"v":20},{"t":26.13,"v":50},{"t":26.18,"v":-60},{"t":26.23,"v":45},{"t":26.36,"v":95},
{"t":26.45,"v":500},{"t":26.48,"v":-15},{"t":26.67,"v":-70},{"t":26.81,"v":-155},{"t":26.87,"v":-247},{"t":26.92,"v":5},{"t":26.97,"v":40},{"t":27.03,"v":15},{"t":27.09,"v":50},{"t":27.14,"v":-65},{"t":27.19,"v":40},{"t":27.32,"v":95},
{"t":27.39,"v":500},{"t":27.42,"v":-15},{"t":27.61,"v":-70},{"t":27.75,"v":-150},{"t":27.81,"v":-235},{"t":27.86,"v":5},{"t":27.91,"v":45},{"t":27.97,"v":20},{"t":28.03,"v":55},{"t":28.08,"v":-60},{"t":28.13,"v":45},{"t":28.26,"v":105},
{"t":28.34,"v":500},{"t":28.37,"v":-15},{"t":28.56,"v":-65},{"t":28.7,"v":-145},{"t":28.76,"v":-227},{"t":28.81,"v":10},{"t":28.86,"v":45},{"t":28.92,"v":20},{"t":28.98,"v":55},{"t":29.03,"v":-60},{"t":29.08,"v":45},{"t":29.21,"v":105},
{"t":29.3,"v":500},{"t":29.33,"v":-15},{"t":29.52,"v":-65},{"t":29.66,"v":-140},{"t":29.72,"v":-213},{"t":29.77,"v":10},{"t":29.82,"v":45},{"t":29.88,"v":20},{"t":29.94,"v":55},{"t":29.99,"v":-60},{"t":30.04,"v":45},{"t":30.17,"v":105},
{"t":30.24,"v":500},{"t":30.27,"v":-15},{"t":30.46,"v":-65},{"t":30.6,"v":-140},{"t":30.66,"v":-213},{"t":30.71,"v":10},{"t":30.76,"v":45},{"t":30.82,"v":20},{"t":30.88,"v":55},{"t":30.93,"v":-60},{"t":30.98,"v":50},{"t":31.11,"v":110},
{"t":31.19,"v":500},{"t":31.22,"v":-15},{"t":31.41,"v":-65},{"t":31.55,"v":-140},{"t":31.61,"v":-213},{"t":31.66,"v":10},{"t":31.71,"v":45},{"t":31.77,"v":20},{"t":31.83,"v":55},{"t":31.88,"v":-55},{"t":31.93,"v":50},{"t":32.06,"v":105},
{"t":32.15,"v":500},{"t":32.18,"v":-20},{"t":32.37,"v":-75},{"t":32.51,"v":-160},{"t":32.57,"v":-259},{"t":32.62,"v":0},{"t":32.67,"v":40},{"t":32.73,"v":10},{"t":32.79,"v":45},{"t":32.84,"v":-70},{"t":32.89,"v":40},{"t":33.02,"v":90},
{"t":33.09,"v":500},{"t":33.12,"v":-20},{"t":33.31,"v":-70},{"t":33.45,"v":-155},{"t":33.51,"v":-249},{"t":33.56,"v":5},{"t":33.61,"v":45},{"t":33.67,"v":15},{"t":33.73,"v":55},{"t":33.78,"v":-60},{"t":33.83,"v":45},{"t":33.96,"v":100},
{"t":34.06,"v":500},{"t":34.09,"v":-15},{"t":34.28,"v":-65},{"t":34.42,"v":-140},{"t":34.48,"v":-211},{"t":34.53,"v":10},{"t":34.58,"v":45},{"t":34.64,"v":20},{"t":34.7,"v":55},{"t":34.75,"v":-60},{"t":34.8,"v":45},{"t":34.93,"v":105},
{"t":35.02,"v":500},{"t":35.05,"v":-15},{"t":35.24,"v":-65},{"t":35.38,"v":-145},{"t":35.44,"v":-225},{"t":35.49,"v":10},{"t":35.54,"v":45},{"t":35.6,"v":20},{"t":35.66,"v":55},{"t":35.71,"v":-60},{"t":35.76,"v":50},{"t":35.89,"v":110},
{"t":35.96,"v":500},{"t":35.99,"v":-15},{"t":36.18,"v":-65},{"t":36.32,"v":-140},{"t":36.38,"v":-215},{"t":36.43,"v":10},{"t":36.48,"v":50},{"t":36.54,"v":20},{"t":36.6,"v":55},{"t":36.65,"v":-60},{"t":36.7,"v":45},{"t":36.83,"v":105},
{"t":36.92,"v":500},{"t":36.95,"v":-15},{"t":37.14,"v":-65},{"t":37.28,"v":-140},{"t":37.34,"v":-215},{"t":37.39,"v":10},{"t":37.44,"v":45},{"t":37.5,"v":20},{"t":37.56,"v":55},{"t":37.61,"v":-55},{"t":37.66,"v":45},{"t":37.79,"v":100},
{"t":37.87,"v":500},{"t":37.9,"v":-20},{"t":38.09,"v":-75},{"t":38.23,"v":-165},{"t":38.29,"v":-261},{"t":38.34,"v":0},{"t":38.39,"v":40},{"t":38.45,"v":10},{"t":38.51,"v":50},{"t":38.56,"v":-65},{"t":38.61,"v":45},{"t":38.74,"v":95},
{"t":38.84,"v":500},{"t":38.87,"v":-20},{"t":39.06,"v":-75},{"t":39.2,"v":-160},{"t":39.26,"v":-256},{"t":39.31,"v":0},{"t":39.36,"v":40},{"t":39.42,"v":15},{"t":39.48,"v":50},{"t":39.53,"v":-65},{"t":39.58,"v":45},{"t":39.71,"v":100},
{"t":39.81,"v":500},{"t":39.84,"v":-15},{"t":40.03,"v":-70},{"t":40.17,"v":-150},{"t":40.23,"v":-237},{"t":40.28,"v":5},{"t":40.33,"v":45},{"t":40.39,"v":20},{"t":40.45,"v":55},{"t":40.5,"v":-60},{"t":40.55,"v":45},{"t":40.68,"v":105},
{"t":40.76,"v":500},{"t":40.79,"v":-15},{"t":40.98,"v":-70},{"t":41.12,"v":-150},{"t":41.18,"v":-235},{"t":41.23,"v":5},{"t":41.28,"v":45},{"t":41.34,"v":20},{"t":41.4,"v":55},{"t":41.45,"v":-60},{"t":41.5,"v":50},{"t":41.63,"v":110},
{"t":41.72,"v":500},{"t":41.75,"v":-15},{"t":41.94,"v":-70},{"t":42.08,"v":-150},{"t":42.14,"v":-235},{"t":42.19,"v":5},{"t":42.24,"v":45},{"t":42.3,"v":20},{"t":42.36,"v":55},{"t":42.41,"v":-60},{"t":42.46,"v":45},{"t":42.59,"v":105},
{"t":42.68,"v":500},{"t":42.71,"v":-15},{"t":42.9,"v":-70},{"t":43.04,"v":-150},{"t":43.1,"v":-235},{"t":43.15,"v":5},{"t":43.2,"v":45},{"t":43.26,"v":20},{"t":43.32,"v":55},{"t":43.37,"v":-60},{"t":43.42,"v":45},{"t":43.55,"v":95},
{"t":43.62,"v":500},{"t":43.65,"v":-20},{"t":43.84,"v":-75},{"t":43.98,"v":-165},{"t":44.04,"v":-261},{"t":44.09,"v":0},{"t":44.14,"v":40},{"t":44.2,"v":10},{"t":44.26,"v":45},{"t":44.31,"v":-65},{"t":44.36,"v":40},{"t":44.49,"v":95},
{"t":44.59,"v":500},{"t":44.62,"v":-20},{"t":44.81,"v":-70},{"t":44.95,"v":-155},{"t":45.01,"v":-249},{"t":45.06,"v":5},{"t":45.11,"v":40},{"t":45.17,"v":15},{"t":45.23,"v":50},{"t":45.28,"v":-60},{"t":45.33,"v":45},{"t":45.46,"v":100},
{"t":45.55,"v":500},{"t":45.58,"v":-15},{"t":45.77,"v":-70},{"t":45.91,"v":-150},{"t":45.97,"v":-237},{"t":46.02,"v":5},{"t":46.07,"v":45},{"t":46.13,"v":20},{"t":46.19,"v":55},{"t":46.24,"v":-60},{"t":46.29,"v":45},{"t":46.42,"v":105},
{"t":46.49,"v":500},{"t":46.52,"v":-15},{"t":46.71,"v":-65},{"t":46.85,"v":-145},{"t":46.91,"v":-227},{"t":46.96,"v":5},{"t":47.01,"v":45},{"t":47.07,"v":20},{"t":47.13,"v":55},{"t":47.18,"v":-60},{"t":47.23,"v":45},{"t":47.36,"v":105},
{"t":47.46,"v":500},{"t":47.49,"v":-15},{"t":47.68,"v":-65},{"t":47.82,"v":-145},{"t":47.88,"v":-225},{"t":47.93,"v":10},{"t":47.98,"v":45},{"t":48.04,"v":20},{"t":48.1,"v":55},{"t":48.15,"v":-60},{"t":48.2,"v":45},{"t":48.33,"v":105},
{"t":48.42,"v":500},{"t":48.45,"v":-15},{"t":48.64,"v":-65},{"t":48.78,"v":-140},{"t":48.84,"v":-219},{"t":48.89,"v":10},{"t":48.94,"v":45},{"t":49.0,"v":20},{"t":49.06,"v":55},{"t":49.11,"v":-60},{"t":49.16,"v":45},{"t":49.29,"v":100},
{"t":49.38,"v":500},{"t":49.41,"v":-15},{"t":49.6,"v":-70},{"t":49.74,"v":-150},{"t":49.8,"v":-237},{"t":49.85,"v":5},{"t":49.9,"v":40},{"t":49.96,"v":15},{"t":50.02,"v":50},{"t":50.07,"v":-60},{"t":50.12,"v":45},{"t":50.25,"v":90},
{"t":50.34,"v":500},{"t":50.37,"v":-15},{"t":50.56,"v":-70},{"t":50.7,"v":-150},{"t":50.76,"v":-237},{"t":50.81,"v":5},{"t":50.86,"v":45},{"t":50.92,"v":20},{"t":50.98,"v":55},{"t":51.03,"v":-60},{"t":51.08,"v":45},{"t":51.21,"v":105},
{"t":51.32,"v":500},{"t":51.35,"v":-15},{"t":51.54,"v":-65},{"t":51.68,"v":-140},{"t":51.74,"v":-219},{"t":51.79,"v":10},{"t":51.84,"v":45},{"t":51.9,"v":20},{"t":51.96,"v":55},{"t":52.01,"v":-60},{"t":52.06,"v":50},{"t":52.19,"v":110},
{"t":52.28,"v":500},{"t":52.31,"v":-15},{"t":52.5,"v":-60},{"t":52.64,"v":-130},{"t":52.7,"v":-195},{"t":52.75,"v":10},{"t":52.8,"v":50},{"t":52.86,"v":25},{"t":52.92,"v":60},{"t":52.97,"v":-55},{"t":53.02,"v":50},{"t":53.15,"v":110},
{"t":53.25,"v":500},{"t":53.28,"v":-15},{"t":53.47,"v":-60},{"t":53.61,"v":-125},{"t":53.67,"v":-189},{"t":53.72,"v":10},{"t":53.77,"v":50},{"t":53.83,"v":25},{"t":53.89,"v":60},{"t":53.94,"v":-55},{"t":53.99,"v":50},{"t":54.12,"v":115},
{"t":54.21,"v":500},{"t":54.24,"v":-15},{"t":54.43,"v":-60},{"t":54.57,"v":-130},{"t":54.63,"v":-195},{"t":54.68,"v":10},{"t":54.73,"v":50},{"t":54.79,"v":20},{"t":54.85,"v":55},{"t":54.9,"v":-60},{"t":54.95,"v":45},{"t":55.08,"v":110},
{"t":55.17,"v":500},{"t":55.2,"v":-15},{"t":55.39,"v":-65},{"t":55.53,"v":-135},{"t":55.59,"v":-207},{"t":55.64,"v":10},{"t":55.69,"v":45},{"t":55.75,"v":20},{"t":55.81,"v":55},{"t":55.86,"v":-60},{"t":55.91,"v":45},{"t":56.04,"v":105},
{"t":56.15,"v":500},{"t":56.18,"v":-15},{"t":56.37,"v":-65},{"t":56.51,"v":-145},{"t":56.57,"v":-227},{"t":56.62,"v":5},{"t":56.67,"v":45},{"t":56.73,"v":20},{"t":56.79,"v":55},{"t":56.84,"v":-60},{"t":56.89,"v":45},{"t":57.02,"v":110},
{"t":57.11,"v":500},{"t":57.14,"v":-15},{"t":57.33,"v":-60},{"t":57.47,"v":-135},{"t":57.53,"v":-203},{"t":57.58,"v":10},{"t":57.63,"v":50},{"t":57.69,"v":20},{"t":57.75,"v":55},{"t":57.8,"v":-55},{"t":57.85,"v":50},{"t":57.98,"v":115},
{"t":58.09,"v":500},{"t":58.12,"v":-15},{"t":58.31,"v":-60},{"t":58.45,"v":-125},{"t":58.51,"v":-189},{"t":58.56,"v":10},{"t":58.61,"v":50},{"t":58.67,"v":25},{"t":58.73,"v":60},{"t":58.78,"v":-55},{"t":58.83,"v":50},{"t":58.96,"v":120},
{"t":59.06,"v":500},{"t":59.09,"v":-15},{"t":59.28,"v":-60},{"t":59.42,"v":-125},{"t":59.48,"v":-183},{"t":59.53,"v":10},{"t":59.58,"v":50},{"t":59.64,"v":25},{"t":59.7,"v":60},{"t":59.75,"v":-50},{"t":59.8,"v":55},{"t":59.93,"v":130},
{"t":59.99,"v":500},{"t":60.0,"v":200}]
},
"encoding":{"x":{"field":"t","type":"quantitative","scale":{"domain":[0,60],"nice":false,"zero":false},
"axis":{"values":[0,10,20,30,40,50,60],"labelExpr":"datum.value == 60 ? '' : datum.label","title":"Time [s]","titleFontSize":22,"labelFontSize":19,"labelPadding":14,"titleY":36,"labelFlush":false}}},
"layer":[
{"encoding":{"y":{"field":"v","type":"quantitative","scale":{"domain":[0,160],"range":[230,70],"nice":false,"zero":false},"axis":null}},
"layer":[
{"data":{"name":"marker"},"mark":{"type":"line","color":"#000","strokeWidth":1},"encoding":{}},
{"data":{"values":[{"t":29.93,"v":151,"label":"Marker signal"}]},"mark":{"type":"text","fontSize":25,"baseline":"middle","align":"center","color":"#000"},"encoding":{"text":{"field":"label"}}}
]},
{"encoding":{"y":{"field":"v","type":"quantitative","scale":{"domain":[-65.5,120.3],"range":[561.7,332],"nice":false,"zero":false},
"axis":{"orient":"left","values":[-50,0,50],"title":"Amplitude [μ V]","titleFontSize":23,"labelFontSize":19,"labelPadding":12,"titleX":-53}}},
"layer":[
{"data":{"name":"eeg"},"mark":{"type":"line","color":"#111","strokeWidth":0.8},"encoding":{}},
{"data":{"values":[{"t":0,"t2":60,"v":-65.5}]},"mark":{"type":"rule","color":"#000","strokeWidth":1},"encoding":{"x2":{"field":"t2"}}},
{"data":{"values":[{"t":6.33,"v":215.8,"v2":31.6},{"t":13.5,"v":191.5,"v2":79.3},{"t":31.75,"v":231.1,"v2":92.2},{"t":36.89,"v":193.4,"v2":17.3},{"t":45.31,"v":221.7,"v2":27.5},{"t":54.88,"v":191.3,"v2":114.6}]},"mark":{"type":"rule","color":"#000","strokeWidth":1.4},"encoding":{"y2":{"field":"v2"}}},
{"data":{"values":[{"t":10.11,"v":211.7,"v2":-65.5},{"t":30.88,"v":208.5,"v2":-65.5},{"t":52.48,"v":209.5,"v2":-65.5}]},"mark":{"type":"rule","color":"#333","strokeWidth":1.3,"strokeDash":[8,5]},"encoding":{"y2":{"field":"v2"}}},
{"data":{"values":[{"t":16.43,"v":208.5,"v2":-65.5},{"t":34.87,"v":207.7,"v2":-65.5},{"t":55.6,"v":194.8,"v2":-65.5}]},"mark":{"type":"rule","color":"#333","strokeWidth":1.3,"strokeDash":[9,4,1.5,4]},"encoding":{"y2":{"field":"v2"}}},
{"data":{"values":[{"t":6.33,"t2":10.11,"v":130},{"t":45.31,"t2":52.48,"v":132.7},{"t":16.43,"t2":30.88,"v":-56.1},{"t":34.87,"t2":52.48,"v":-56.1}]},"mark":{"type":"rule","color":"#000","strokeWidth":1.2},"encoding":{"x2":{"field":"t2"}}},
{"data":{"values":[{"t":6.33,"v":31.6},{"t":31.75,"v":92.2},{"t":45.31,"v":27.5}]},"mark":{"type":"point","shape":"M0,0L-1,-0.3L-0.7,0L-1,0.3Z","size":1600,"angle":90,"filled":true,"color":"#000","opacity":1,"strokeWidth":0}},
{"data":{"values":[{"t":6.33,"v":130},{"t":45.31,"v":132.7},{"t":16.43,"v":-56.1},{"t":34.87,"v":-56.1}]},"mark":{"type":"point","shape":"M0,0L-1,-0.27L-0.7,0L-1,0.27Z","size":1600,"angle":180,"filled":true,"color":"#000","opacity":1,"strokeWidth":0}},
{"data":{"values":[{"t":10.11,"v":130},{"t":52.48,"v":132.7},{"t":30.88,"v":-56.1},{"t":52.48,"v":-56.1}]},"mark":{"type":"point","shape":"M0,0L-1,-0.27L-0.7,0L-1,0.27Z","size":1600,"angle":0,"filled":true,"color":"#000","opacity":1,"strokeWidth":0}},
{"data":{"values":[{"t":13.5,"v":79.3},{"t":36.89,"v":17.3},{"t":54.88,"v":114.6}]},"mark":{"type":"point","shape":"diamond","size":169,"filled":true,"color":"#000","opacity":1,"strokeWidth":0}},
{"data":{"values":[{"t":23.43,"v":113.3,"label":"EEG signal"}]},"mark":{"type":"text","fontSize":25,"baseline":"middle","align":"center","color":"#000"},"encoding":{"text":{"field":"label"}}},
{"data":{"values":[{"t":7.77,"v":143.8,"label":"SSBI"},{"t":48.4,"v":144,"label":"SSBI"},{"t":24.36,"v":-45.1,"label":"IBI"},{"t":44.91,"v":-44.9,"label":"IBI"}]},"mark":{"type":"text","fontSize":21,"baseline":"middle","align":"center","color":"#000"},"encoding":{"text":{"field":"label"}}}
]},
{"encoding":{"y":{"field":"v","type":"quantitative","scale":{"domain":[-275,550],"range":[837.3,607.3],"nice":false,"zero":false},
"axis":{"orient":"left","values":[-200,0,200,400],"title":"Amplitude [μ V]","titleFontSize":23,"labelFontSize":19,"labelPadding":12,"titleX":-53}}},
"layer":[
{"data":{"name":"ecg"},"mark":{"type":"line","color":"#111","strokeWidth":0.8},"encoding":{}},
{"data":{"values":[{"t":29.88,"v":578.8,"label":"ECG signal"}]},"mark":{"type":"text","fontSize":25,"baseline":"middle","align":"center","color":"#000"},"encoding":{"text":{"field":"label"}}}
]}
],
"resolve":{"scale":{"y":"independent"}}
}
